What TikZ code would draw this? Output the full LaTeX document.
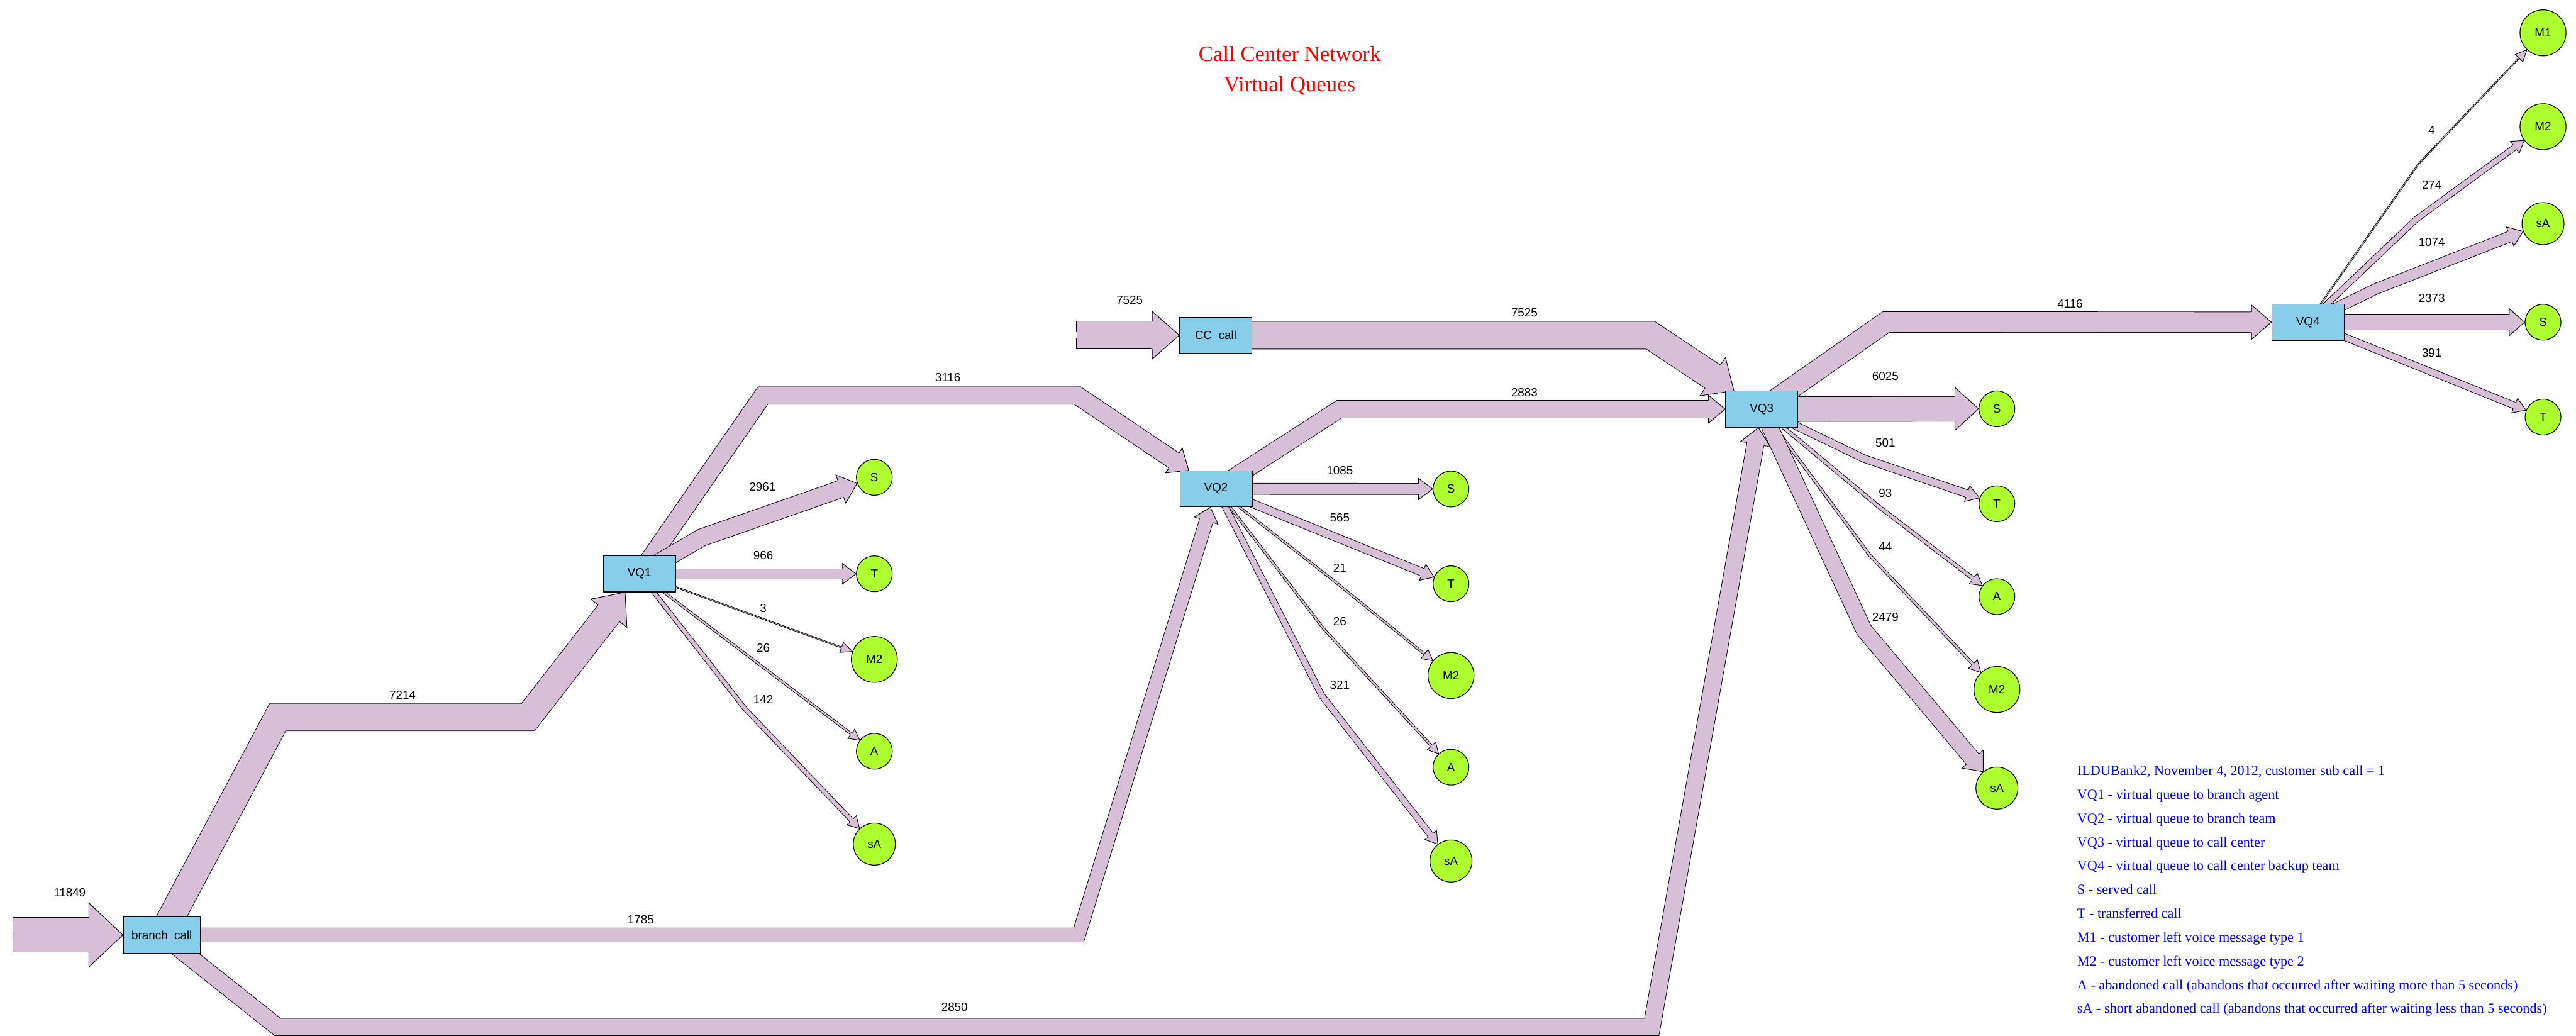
\documentclass[tikz,border=0pt]{standalone}
\usepackage{fontspec}
\setmainfont{Liberation Serif}
\newfontfamily\lsans{Liberation Sans}
\usetikzlibrary{calc}
\definecolor{flowc}{RGB}{216,191,216}
\definecolor{boxc}{RGB}{135,206,235}
\definecolor{endc}{RGB}{173,255,47}
\pgfdeclarelayer{flows}
\pgfsetlayers{flows,main}
\newcommand\labfont{\lsans\fontsize{7.2}{8.6}\selectfont}
\tikzset{
  qbox/.style={draw, fill=boxc, line width=0.45pt, minimum width=44pt, minimum height=22pt, inner sep=0pt, font=\labfont},
  endn/.style={draw, fill=endc, circle, line width=0.45pt, minimum size=21.8pt, inner sep=0pt, font=\labfont},
  endm/.style={endn, minimum size=28pt},
  ends/.style={endn, minimum size=25.6pt},
  lab/.style={font=\labfont, inner sep=0pt},
  flowline/.style={draw=black, line width=0.36pt, double=flowc, line join=miter, line cap=butt},
  headline/.style={draw=black, line width=0.36pt, line join=miter},
  legtext/.style={font=\fontsize{8.5}{10}\selectfont, text=blue, inner sep=0pt, anchor=base west},
  ttl/.style={font=\fontsize{13.3}{16}\selectfont, text=red, inner sep=0pt, anchor=base},
}
% #1 shaft width, #2 head width, #3 head length, #4 shaft path, #5 last point before tip, #6 target node
\newcommand\flowarrow[6]{%
  \pgfmathsetmacro\fhw{#2/2}%
  \pgfmathsetmacro\fsw{#1/2+0.16}%
  \pgfmathsetmacro\fiw{#1/2}%
  \path #5 -- coordinate[pos=1] (ft) (#6);%
  \path ($(ft)!#3pt!#5$) coordinate (fb);%
  \path ($(fb)!0.8pt!#5$) coordinate (fbx);%
  \draw[flowline, double distance=#1pt] #4 -- (fb);%
  \path ($(fb)!\fhw pt!90:(ft)$) coordinate (f1)
        ($(fb)!\fhw pt!-90:(ft)$) coordinate (f2)
        ($(fb)!\fsw pt!90:(ft)$) coordinate (s1)
        ($(fb)!\fsw pt!-90:(ft)$) coordinate (s2)
        ($(fb)!\fiw pt!90:(ft)$) coordinate (b1)
        ($(fb)!\fiw pt!-90:(ft)$) coordinate (b2)
        ($(fbx)!\fiw pt!90:(fb)$) coordinate (x1)
        ($(fbx)!\fiw pt!-90:(fb)$) coordinate (x2);%
  \fill[flowc] (x1) -- (b1) -- (f1) -- (ft) -- (f2) -- (b2) -- (x2) -- cycle;%
  \draw[headline] (s1) -- (f1) -- (ft) -- (f2) -- (s2);%
}
\begin{document}
\begin{tikzpicture}[x=1pt, y=-1pt]
\useasboundingbox (0,0) rectangle (1568,630.4);
% title
\node[ttl] (t1) at (785,37.4) {Call Center Network};
\node[ttl] (t2) at (785,55.6) {Virtual Queues};
% queue boxes
\node[qbox, minimum width=47pt] (br) at (98.5,569) {branch\ \ call};
\node[qbox] (cc) at (740,204) {CC\ \ call};
\node[qbox] (vq1) at (389.2,349.2) {VQ1};
\node[qbox] (vq2) at (740.2,297.5) {VQ2};
\node[qbox] (vq3) at (1072.3,249) {VQ3};
\node[qbox] (vq4) at (1404.8,196.1) {VQ4};
% end states
\node[endn] (S1) at (532.2,290.5) {S};
\node[endn] (T1) at (532.2,349.2) {T};
\node[endm] (M21) at (532.2,401.3) {M2};
\node[endn] (A1) at (532.2,457.2) {A};
\node[ends] (sA1) at (532.2,513.7) {sA};
\node[endn] (S2) at (883.2,297.6) {S};
\node[endn] (T2) at (883.2,355.3) {T};
\node[endm] (M22) at (883.2,411.1) {M2};
\node[endn] (A2) at (883.2,466.9) {A};
\node[ends] (sA2) at (883.2,524) {sA};
\node[endn] (S3) at (1215.5,248.8) {S};
\node[endn] (T3) at (1215.5,306.6) {T};
\node[endn] (A3) at (1215.5,363.1) {A};
\node[endm] (M23) at (1215.5,419.6) {M2};
\node[ends] (sA3) at (1215.5,479.6) {sA};
\node[endm] (M14) at (1547.9,20) {M1};
\node[endm] (M24) at (1547.9,77.1) {M2};
\node[ends] (sA4) at (1547.9,136.1) {sA};
\node[endn] (S4) at (1547.9,196.1) {S};
\node[endn] (T4) at (1547.9,253.8) {T};
% free ends of the incoming flows
\coordinate (in1) at (8,569);
\coordinate (in2) at (655.3,204);
\begin{pgfonlayer}{flows}
\fill[white] (0,0) rectangle (1568,630.4);
\flowarrow{20.7}{39}{20.7}{(in1)}{(in1)}{br}
\draw[headline] ($(in1)+(0,-10.7)$) -- ($(in1)+(0,-2.1)$) ($(in1)+(0,2.1)$) -- ($(in1)+(0,10.7)$);
\flowarrow{16.5}{29}{16.4}{(in2)}{(in2)}{cc}
\draw[headline] ($(in2)+(0,-8.6)$) -- ($(in2)+(0,-1.8)$) ($(in2)+(0,1.8)$) -- ($(in2)+(0,8.6)$);
% from branch call
\flowarrow{16.1}{28}{16.2}{(br.center) -- (169,436.5) -- (321.4,436.5)}{(321.4,436.5)}{vq1}
\flowarrow{8.0}{15}{8.5}{(br.center) -- (656.6,569)}{(656.6,569)}{vq2}
\flowarrow{10.1}{18.4}{10.2}{(br.center) -- (169,625) -- (1005.4,625)}{(1005.4,625)}{vq3}
% from CC call
\flowarrow{16.5}{28}{15.5}{(cc.center) -- (1004.6,204)}{(1004.6,204)}{vq3}
% from VQ1
\flowarrow{10.6}{18.2}{10.8}{(vq1.center) -- (464.5,240.5) -- (655.5,240.5)}{(655.5,240.5)}{vq2}
\flowarrow{10.3}{18.2}{10.5}{(vq1.center) -- (427,327.2)}{(427,327.2)}{S1}
\flowarrow{5.9}{12.6}{8.4}{(vq1.center)}{(vq1)}{T1}
\flowarrow{0.3}{6.5}{7}{(vq1.center)}{(vq1)}{M21}
\flowarrow{0.97}{7}{6.5}{(vq1.center)}{(vq1)}{A1}
\flowarrow{2.26}{8}{7}{(vq1.center) -- (453.5,431.4)}{(453.5,431.4)}{sA1}
% from VQ2
\flowarrow{10.2}{17}{10.2}{(vq2.center) -- (815.3,249)}{(815.3,249)}{vq3}
\flowarrow{6.4}{12.8}{8.6}{(vq2.center)}{(vq2)}{S2}
\flowarrow{4.5}{10.5}{7.5}{(vq2.center)}{(vq2)}{T2}
\flowarrow{0.87}{7}{6.5}{(vq2.center) -- (811.1,352.8)}{(811.1,352.8)}{M22}
\flowarrow{0.97}{7}{6.5}{(vq2.center) -- (805.9,382.9)}{(805.9,382.9)}{A2}
\flowarrow{3.4}{9}{7}{(vq2.center) -- (804.6,423.4)}{(804.6,423.4)}{sA2}
% from VQ3
\flowarrow{12.2}{20.9}{12.1}{(vq3.center) -- (1148,196)}{(1148,196)}{vq4}
\flowarrow{14.7}{26}{14.4}{(vq3.center)}{(vq3)}{S3}
\flowarrow{4.25}{10}{8}{(vq3.center) -- (1134.6,279.1)}{(1134.6,279.1)}{T3}
\flowarrow{1.83}{8}{7}{(vq3.center) -- (1142.8,307.7)}{(1142.8,307.7)}{A3}
\flowarrow{1.26}{7.5}{7}{(vq3.center) -- (1138.1,337.9)}{(1138.1,337.9)}{M23}
\flowarrow{9.5}{17}{10}{(vq3.center) -- (1134.6,383.4)}{(1134.6,383.4)}{sA3}
% from VQ4
\flowarrow{0.3}{6.5}{7}{(vq4.center) -- (1472.1,99.8)}{(1472.1,99.8)}{M14}
\flowarrow{3.1}{9}{7}{(vq4.center) -- (1470.8,133.4)}{(1470.8,133.4)}{M24}
\flowarrow{6.2}{12.5}{8.5}{(vq4.center) -- (1445.6,176)}{(1445.6,176)}{sA4}
\flowarrow{9.4}{16.4}{9.4}{(vq4.center)}{(vq4)}{S4}
\flowarrow{3.76}{9.5}{7.5}{(vq4.center)}{(vq4)}{T4}
\end{pgfonlayer}
% flow labels
\node[lab] (l11849) at (42.4,543.2) {11849};
\node[lab] (l7525a) at (687.6,182.6) {7525};
\node[lab] (l7214) at (245,423) {7214};
\node[lab] (l1785) at (390,559.7) {1785};
\node[lab] (l2850) at (581,613) {2850};
\node[lab] (l7525b) at (927.9,190.3) {7525};
\node[lab] (l3116) at (576.9,229.8) {3116};
\node[lab] (l2883) at (927.9,238.7) {2883};
\node[lab] (l4116) at (1260,184.9) {4116};
\node[lab] (l2961) at (464.1,296.2) {2961};
\node[lab] (l966) at (464.6,338.1) {966};
\node[lab] (l3) at (464.6,370) {3};
\node[lab] (l26a) at (464.6,394.4) {26};
\node[lab] (l142) at (464.6,425.7) {142};
\node[lab] (l1085) at (815.5,286.2) {1085};
\node[lab] (l565) at (815.5,315.2) {565};
\node[lab] (l21) at (815.5,345.8) {21};
\node[lab] (l26b) at (815.5,378.2) {26};
\node[lab] (l321) at (815.5,416.9) {321};
\node[lab] (l6025) at (1147.6,229) {6025};
\node[lab] (l501) at (1147.6,269.6) {501};
\node[lab] (l93) at (1147.6,300) {93};
\node[lab] (l44) at (1147.6,332.5) {44};
\node[lab] (l2479) at (1147.6,375.5) {2479};
\node[lab] (l4) at (1480.2,79.3) {4};
\node[lab] (l274) at (1480.2,112.5) {274};
\node[lab] (l1074) at (1480.2,147.5) {1074};
\node[lab] (l2373) at (1480.2,181.6) {2373};
\node[lab] (l391) at (1480.2,214.6) {391};
% legend
\node[legtext] (leg1) at (1264.2,471.9) {ILDUBank2, November 4, 2012, customer sub call = 1};
\node[legtext] (leg2) at (1264.2,486.4) {VQ1 - virtual queue to branch agent};
\node[legtext] (leg3) at (1264.2,500.9) {VQ2 - virtual queue to branch team};
\node[legtext] (leg4) at (1264.2,515.3) {VQ3 - virtual queue to call center};
\node[legtext] (leg5) at (1264.2,529.8) {VQ4 - virtual queue to call center backup team};
\node[legtext] (leg6) at (1264.2,544.3) {S - served call};
\node[legtext] (leg7) at (1264.2,558.8) {T - transferred call};
\node[legtext] (leg8) at (1264.2,573.3) {M1 - customer left voice message type 1};
\node[legtext] (leg9) at (1264.2,587.7) {M2 - customer left voice message type 2};
\node[legtext] (leg10) at (1264.2,602.2) {A - abandoned call (abandons that occurred after waiting more than 5 seconds)};
\node[legtext] (leg11) at (1264.2,616.7) {sA - short abandoned call (abandons that occurred after waiting less than 5 seconds)};
\end{tikzpicture}
\end{document}
